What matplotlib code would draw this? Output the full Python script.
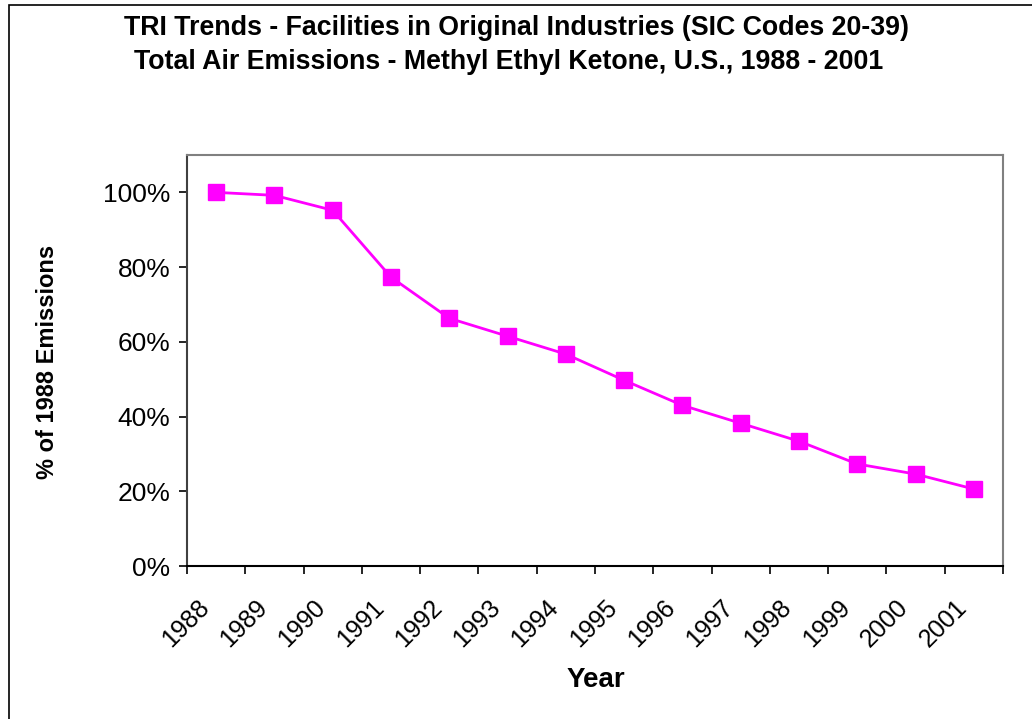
import matplotlib.pyplot as plt
from matplotlib.ticker import PercentFormatter, MultipleLocator
from matplotlib.transforms import ScaledTranslation
import matplotlib.patches as mpatches

plt.rcParams['font.family'] = ['Liberation Sans', 'DejaVu Sans']

# data
years = ['1988', '1989', '1990', '1991', '1992', '1993', '1994',
         '1995', '1996', '1997', '1998', '1999', '2000', '2001']
pct_of_1988 = [1.000, 0.992, 0.952, 0.773, 0.663, 0.615, 0.567,
               0.497, 0.430, 0.382, 0.334, 0.273, 0.246, 0.206]

fig = plt.figure(figsize=(10.32, 7.19), dpi=100)
ax = fig.add_axes([187 / 1032, 1 - 566 / 719, 816 / 1032, 411 / 719])

# outer border (left and top edges visible)
fig.patches.append(mpatches.Rectangle((9 / 1032, -0.1), 1.2, 1 - 5 / 719 + 0.1,
                                      transform=fig.transFigure, fill=False,
                                      edgecolor='black', linewidth=1.2))

x = [i + 0.5 for i in range(len(years))]
ax.plot(x, pct_of_1988, color='#ff00ff', linewidth=2, marker='s',
        markersize=11, markerfacecolor='#ff00ff', markeredgecolor='#ff00ff')

ax.set_xlim(0, len(years))
ax.set_ylim(0, 1.1)
ax.yaxis.set_major_locator(MultipleLocator(0.2))
ax.yaxis.set_major_formatter(PercentFormatter(1.0, decimals=0))
ax.set_xticks(range(len(years) + 1))
ax.set_xticklabels([])
ax.set_xticks(x, minor=True)
ax.set_xticklabels(years, minor=True, rotation=45, ha='right', va='center',
                   rotation_mode='anchor', fontsize=18)
ax.tick_params(axis='x', which='minor', length=0, pad=0)
ax.tick_params(axis='x', which='major', direction='out', length=6, width=1.2)
ax.tick_params(axis='y', direction='out', length=6, width=1.2, labelsize=19, pad=6)

# shift year labels so they sit below-left of each category centre
shift = ScaledTranslation(-11 / 100, -38 / 100, fig.dpi_scale_trans)
for lab in ax.get_xticklabels(minor=True):
    lab.set_transform(lab.get_transform() + shift)

for side in ['top', 'right']:
    ax.spines[side].set_color('#808080')
    ax.spines[side].set_linewidth(1.5)
ax.spines['left'].set_color('#404040')
ax.spines['left'].set_linewidth(1.5)
ax.spines['bottom'].set_color('black')
ax.spines['bottom'].set_linewidth(1.5)

fig.text(596 / 1032, 1 - 680 / 719, 'Year', ha='center', va='center',
         fontsize=20, fontweight='bold')
fig.text(48 / 1032, 1 - 362 / 719, '% of 1988 Emissions', ha='center', va='center',
         rotation=90, fontsize=17, fontweight='bold')

fig.text(516 / 1032, 1 - 28 / 719,
         'TRI Trends - Facilities in Original Industries (SIC Codes 20-39)',
         ha='center', va='center', fontsize=19.3, fontweight='bold')
fig.text(509 / 1032, 1 - 62 / 719,
         'Total Air Emissions - Methyl Ethyl Ketone, U.S., 1988 - 2001',
         ha='center', va='center', fontsize=19.3, fontweight='bold')

fig.savefig('out.png', dpi=100)
